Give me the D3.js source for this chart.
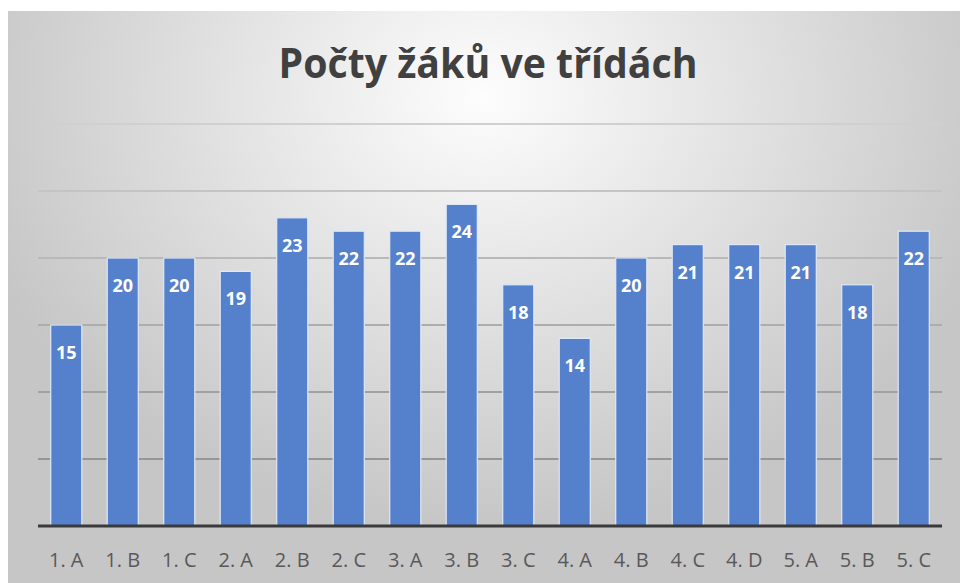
<!DOCTYPE html>
<html>
<head>
<meta charset="utf-8">
<script src="https://cdn.jsdelivr.net/npm/d3@7"></script>
<style>
  body { margin: 0; background: #fff; }
  svg { display: block; }
</style>
</head>
<body>
<div id="chart"></div>
<script>
// Data
const classes = ["1. A", "1. B", "1. C", "2. A", "2. B", "2. C", "3. A", "3. B",
                 "3. C", "4. A", "4. B", "4. C", "4. D", "5. A", "5. B", "5. C"];
const pupils = [15, 20, 20, 19, 23, 22, 22, 24, 18, 14, 20, 21, 21, 21, 18, 22];
const gridTicks = [0, 5, 10, 15, 20, 25, 30];
const title = "Počty žáků ve třídách";

const width = 960, height = 583;
const plot = { left: 38, right: 942, top: 124, bottom: 526 };

const svg = d3.select("#chart")
    .append("svg")
    .attr("width", width)
    .attr("height", height);

// Background gradient
const defs = svg.append("defs");
const grad = defs.append("radialGradient")
    .attr("id", "bg")
    .attr("cx", "50%").attr("cy", "15%")
    .attr("r", "75%")
    .attr("gradientTransform", "translate(0.5,0.15) scale(0.75,1) translate(-0.5,-0.15)");
grad.append("stop").attr("offset", "0%").attr("stop-color", "#fdfdfd");
grad.append("stop").attr("offset", "100%").attr("stop-color", "#c6c6c6");

svg.append("rect")
    .attr("x", 8).attr("y", 11)
    .attr("width", width - 8).attr("height", height - 11)
    .attr("fill", "url(#bg)");

const x = d3.scaleBand()
    .domain(classes)
    .range([plot.left, plot.right])
    .paddingInner(0.45)
    .paddingOuter(0.225);

const y = d3.scaleLinear()
    .domain([0, 30])
    .range([plot.bottom, plot.top]);

// Gridlines
svg.append("g")
    .selectAll("line")
    .data(gridTicks.slice(1))
    .join("line")
    .attr("x1", plot.left)
    .attr("x2", plot.right)
    .attr("y1", d => y(d))
    .attr("y2", d => y(d))
    .attr("stroke", d => d3.interpolateRgb("#d0d0d0", "#8a8a8a")(1 - d / 30))
    .attr("stroke-width", 2);

// Bars
svg.append("g")
    .selectAll("rect")
    .data(pupils)
    .join("rect")
    .attr("x", (d, i) => x(classes[i]))
    .attr("y", d => y(d))
    .attr("width", x.bandwidth())
    .attr("height", d => y(0) - y(d))
    .attr("fill", "#5580cc")
    .attr("stroke", "#dfe8f6")
    .attr("stroke-width", 1.2);

// Value labels
svg.append("g")
    .selectAll("text")
    .data(pupils)
    .join("text")
    .attr("x", (d, i) => x(classes[i]) + x.bandwidth() / 2)
    .attr("y", d => y(d) + 34)
    .attr("text-anchor", "middle")
    .attr("font-family", "'Open Sans', sans-serif")
    .attr("font-weight", "bold")
    .attr("font-size", 18)
    .attr("fill", "#ffffff")
    .text(d => d);

// Baseline
svg.append("line")
    .attr("x1", plot.left)
    .attr("x2", plot.right)
    .attr("y1", y(0))
    .attr("y2", y(0))
    .attr("stroke", "#3a3a3a")
    .attr("stroke-width", 3);

// Category axis labels
svg.append("g")
    .selectAll("text")
    .data(classes)
    .join("text")
    .attr("x", d => x(d) + x.bandwidth() / 2)
    .attr("y", 567)
    .attr("text-anchor", "middle")
    .attr("font-family", "'Open Sans', sans-serif")
    .attr("font-size", 20)
    .attr("fill", "#595959")
    .text(d => d);

// Title
svg.append("text")
    .attr("x", 488)
    .attr("y", 78)
    .attr("text-anchor", "middle")
    .attr("font-family", "'Open Sans', sans-serif")
    .attr("font-weight", "bold")
    .attr("font-size", 42)
    .attr("textLength", 419)
    .attr("lengthAdjust", "spacingAndGlyphs")
    .attr("fill", "#404040")
    .text(title);
</script>
</body>
</html>
